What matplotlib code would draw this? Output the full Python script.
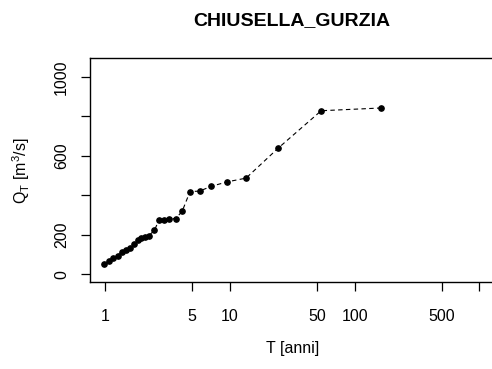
import matplotlib
matplotlib.use("Agg")
import matplotlib.pyplot as plt

plt.rcParams['font.family'] = ['Liberation Sans', 'DejaVu Sans']
plt.rcParams['mathtext.fontset'] = 'custom'
plt.rcParams['mathtext.rm'] = 'Liberation Sans'
plt.rcParams['mathtext.it'] = 'Liberation Sans'

title = "CHIUSELLA_GURZIA"
x_label = "T [anni]"
y_label = r"$\mathrm{Q_T\ [m^3/s]}$"

return_period = [164, 54, 24.5, 13.5, 9.5, 7.06, 5.72, 4.8, 4.15, 3.68, 3.25,
                 2.96, 2.70, 2.49, 2.24, 2.08, 1.94, 1.83, 1.72, 1.60, 1.47,
                 1.36, 1.27, 1.17, 1.08, 0.99]
discharge = [843, 829, 640, 487, 468, 445, 421, 419, 318, 282, 280,
             277, 273, 222, 195, 190, 184, 172, 152, 133, 120,
             114, 92, 80, 66, 50]

x_ticks = [1, 5, 10, 50, 100, 500, 1000]
x_tick_labels = ["1", "5", "10", "50", "100", "500", ""]
y_ticks = [0, 200, 400, 600, 800, 1000]
y_tick_labels = ["0", "200", "", "600", "", "1000"]

fig = plt.figure(figsize=(4.92, 3.69), dpi=100)
ax = fig.add_axes([90/492, 1-282/369, 404.4/492, (282-58.3)/369])

ax.plot(return_period, discharge, linestyle=(0, (4, 3)), color='black',
        linewidth=0.8, marker='o', markersize=3.8, markerfacecolor='black',
        markeredgecolor='black')

ax.set_xscale('log')
ax.set_xlim(10**-0.12, 10**3.12)
ax.set_ylim(-40, 1095)
ax.set_xticks(x_ticks)
ax.set_xticklabels(x_tick_labels)
ax.minorticks_off()
ax.set_yticks(y_ticks)
ax.set_yticklabels(y_tick_labels, rotation=90, va='center')

ax.tick_params(axis='x', direction='out', length=6.5, width=0.9,
               pad=13, labelsize=11.5)
ax.tick_params(axis='y', direction='out', length=6.5, width=0.9,
               pad=8.5, labelsize=11.5)
for s in ax.spines.values():
    s.set_linewidth(1.0)

ax.set_title(title, fontsize=14, fontweight='bold', pad=24)
ax.set_xlabel(x_label, fontsize=11.5, labelpad=12)
ax.set_ylabel(y_label, fontsize=11.5, labelpad=16)

fig.savefig("out.png", dpi=100)
